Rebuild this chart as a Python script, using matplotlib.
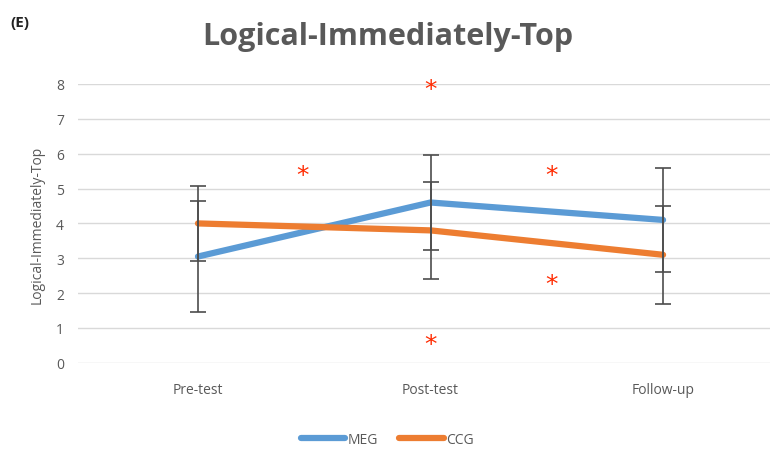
import numpy as np
import matplotlib.pyplot as plt

plt.rcParams['font.family'] = ['Open Sans', 'DejaVu Sans']

# data
phases = ['Pre-test', 'Post-test', 'Follow-up']
meg = [3.05, 4.6, 4.1]
meg_err = [1.6, 1.37, 1.5]
ccg = [4.0, 3.8, 3.1]
ccg_err = [1.07, 1.4, 1.4]

# significance markers (x in category units, y in data units)
star_x = [0.45, 1.0, 1.52, 1.52, 1.0]
star_y = [5.55, 8.0, 5.55, 2.4, 0.7]

blue = '#5B9BD5'
orange = '#ED7D31'
grey = '#595959'

fig = plt.figure(figsize=(7.75, 4.52), dpi=100)
ax = fig.add_axes([0.1006, 0.195, 0.893, 0.617])

x = np.arange(len(phases))
ax.plot(x, meg, color=blue, lw=4.5, label='MEG', solid_capstyle='round', zorder=3)
ax.plot(x, ccg, color=orange, lw=4.5, label='CCG', solid_capstyle='round', zorder=3)
ax.errorbar(x, meg, yerr=meg_err, fmt='none', ecolor='#4d4d4d', elinewidth=1.2,
            capsize=6, capthick=1.2, zorder=4, clip_on=False)
ax.errorbar(x, ccg, yerr=ccg_err, fmt='none', ecolor='#4d4d4d', elinewidth=1.2,
            capsize=6, capthick=1.2, zorder=4, clip_on=False)

# asterisk glyph sits high in its box, so nudge it down a little
for sx, sy in zip(star_x, star_y):
    ax.text(sx, sy - 0.15, '*', color='#FF2A00', fontsize=18, ha='center', va='center',
            family='DejaVu Sans', clip_on=False, zorder=5)

ax.set_xlim(-0.516, 2.46)
ax.set_ylim(0, 8)
ax.set_yticks(range(0, 9))
ax.set_xticks(x)
ax.set_xticklabels(phases)
ax.yaxis.grid(True, color='#D9D9D9', lw=1.0)
ax.set_axisbelow(True)
for s in ax.spines.values():
    s.set_visible(False)
ax.tick_params(axis='both', length=0, colors=grey, labelsize=10)
ax.tick_params(axis='x', pad=14)
ax.tick_params(axis='y', pad=10)
ax.set_ylabel('Logical-Immediately-Top', color=grey, fontsize=10, labelpad=8)

fig.text(0.5, 0.918, 'Logical-Immediately-Top', ha='center', va='center',
         fontsize=22, fontweight='bold', color=grey)
fig.text(0.014, 0.95, '(E)', ha='left', va='center', fontsize=11,
         fontweight='bold', color='#222222')

fig.legend(loc='center', bbox_to_anchor=(0.5, 0.026), ncol=2, frameon=False,
           fontsize=10, handlelength=3.2, columnspacing=1.5, labelcolor=grey,
           handletextpad=0.2)

fig.savefig('out.png', dpi=100)
